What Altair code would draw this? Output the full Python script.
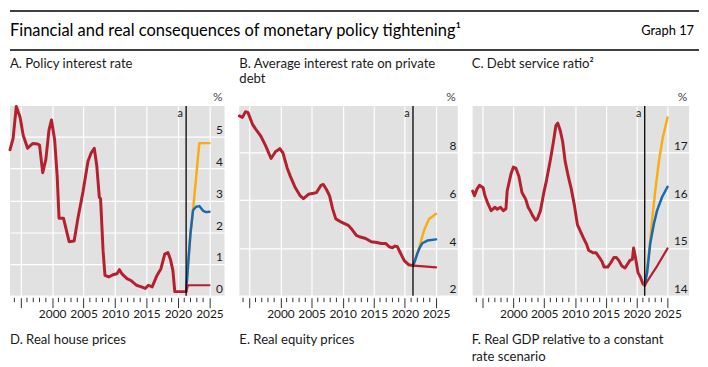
import altair as alt
import pandas as pd

# ---------------- texts ----------------
MAIN_TITLE = "Financial and real consequences of monetary policy tightening\u00b9"
GRAPH_NO = "Graph 17"
A_TITLE = ["A. Policy interest rate"]
B_TITLE = ["B. Average interest rate on private", "debt"]
C_TITLE = ["C. Debt service ratio\u00b2"]
D_TITLE = ["D. Real house prices"]
E_TITLE = ["E. Real equity prices"]
F_TITLE = ["F. Real GDP relative to a constant", "rate scenario"]
UNIT = "%"
VLINE_LABEL = "a"
VLINE_YEAR = [2021.3]

X_MAJOR = [1995, 2000, 2005, 2010, 2015, 2020, 2025]
X_MINOR = [1994, 1996, 1997, 1998, 1999, 2001, 2002, 2003, 2004, 2006, 2007, 2008,
           2009, 2011, 2012, 2013, 2014, 2016, 2017, 2018, 2019, 2021, 2022, 2023, 2024]

# ---------------- Panel A: policy interest rate ----------------
A_Y_TICKS = [0, 1, 2, 3, 4, 5]
A_HIST_YEARS = [1993.3, 1993.8, 1994.3, 1994.9, 1995.4, 1996.1, 1996.9, 1997.7, 1998.0, 1998.5,
                1999.0, 1999.5, 1999.9, 2000.4, 2000.8, 2001.1, 2001.8, 2002.3, 2002.7, 2003.5,
                2004.1, 2004.9, 2005.7, 2006.2, 2006.7, 2007.1, 2007.5, 2007.7, 2008.1, 2008.4,
                2009.0, 2009.8, 2010.3, 2010.7, 2011.1, 2011.9, 2012.6, 2013.4, 2014.2, 2014.8,
                2015.3, 2015.9, 2016.6, 2017.3, 2017.9, 2018.4, 2018.8, 2019.2, 2019.5, 2020.1,
                2021.0, 2021.3]
A_HIST_VALUES = [4.59, 4.95, 5.95, 5.62, 5.05, 4.64, 4.79, 4.77, 4.74, 3.87,
                 4.28, 5.21, 5.53, 4.90, 3.77, 2.44, 2.44, 2.03, 1.70, 1.72,
                 2.44, 3.26, 4.23, 4.49, 4.64, 4.08, 3.10, 3.05, 1.41, 0.64,
                 0.59, 0.67, 0.69, 0.82, 0.69, 0.54, 0.47, 0.33, 0.28, 0.23,
                 0.33, 0.28, 0.61, 0.85, 1.31, 1.36, 1.15, 0.79, 0.13, 0.13,
                 0.13, 0.13]
A_RED_YEARS = [2021.3, 2021.6, 2025.0]
A_RED_VALUES = [0.13, 0.33, 0.33]
A_BLUE_YEARS = [2021.3, 2021.6, 2022.0, 2022.4, 2022.9, 2023.4, 2024.0, 2024.5, 2025.0]
A_BLUE_VALUES = [0.13, 0.95, 1.98, 2.69, 2.80, 2.82, 2.67, 2.63, 2.64]
A_ORANGE_YEARS = [2021.3, 2021.6, 2022.0, 2022.4, 2023.4, 2025.0]
A_ORANGE_VALUES = [0.13, 0.95, 1.98, 2.69, 4.80, 4.80]

# ---------------- Panel B: average interest rate on private debt ----------------
B_Y_TICKS = [2, 4, 6, 8]
B_HIST_YEARS = [1993.4, 1993.9, 1994.4, 1994.8, 1995.5, 1996.0, 1996.8, 1997.6, 1998.5, 1999.2,
                1999.9, 2000.4, 2001.1, 2001.6, 2002.4, 2003.2, 2003.7, 2004.5, 2005.3, 2005.8,
                2006.5, 2006.9, 2007.4, 2007.9, 2008.4, 2008.9, 2009.8, 2010.9, 2011.4, 2012.2,
                2012.7, 2013.7, 2014.6, 2015.5, 2016.2, 2016.9, 2017.5, 2018.0, 2018.4, 2018.8,
                2019.3, 2019.9, 2020.6, 2021.3]
B_HIST_VALUES = [9.53, 9.47, 9.71, 9.67, 9.19, 8.99, 8.71, 8.30, 7.75, 8.03,
                 8.16, 7.99, 7.34, 7.00, 6.52, 6.18, 6.07, 6.25, 6.29, 6.32,
                 6.62, 6.66, 6.45, 6.18, 5.63, 5.22, 5.08, 4.95, 4.81, 4.53,
                 4.47, 4.40, 4.26, 4.23, 4.19, 4.19, 4.05, 4.01, 4.08, 4.05,
                 3.78, 3.47, 3.30, 3.26]
B_RED_YEARS = [2021.3, 2023.0, 2025.0]
B_RED_VALUES = [3.26, 3.23, 3.19]
B_BLUE_YEARS = [2021.3, 2021.6, 2022.0, 2022.4, 2022.8, 2023.6, 2025.0]
B_BLUE_VALUES = [3.26, 3.45, 3.77, 4.02, 4.20, 4.31, 4.36]
B_ORANGE_YEARS = [2021.3, 2021.6, 2022.0, 2022.25, 2023.05, 2023.85, 2025.0]
B_ORANGE_VALUES = [3.26, 3.45, 3.77, 3.97, 4.72, 5.20, 5.43]

# ---------------- Panel C: debt service ratio ----------------
C_Y_TICKS = [14, 15, 16, 17]
C_HIST_YEARS = [1993.4, 1993.7, 1994.1, 1994.5, 1995.1, 1995.4, 1995.9, 1996.4, 1997.0, 1997.4,
                1997.9, 1998.4, 1998.8, 1999.0, 1999.6, 2000.0, 2000.4, 2000.9, 2001.4, 2002.0,
                2002.4, 2002.8, 2003.1, 2003.6, 2003.9, 2004.4, 2004.9, 2005.4, 2006.0, 2006.5,
                2006.9, 2007.2, 2007.6, 2008.0, 2008.4, 2008.9, 2009.4, 2009.9, 2010.4, 2010.9,
                2011.4, 2011.9, 2012.2, 2012.9, 2013.4, 2013.9, 2014.4, 2014.7, 2015.3, 2015.8,
                2016.3, 2016.7, 2017.1, 2017.6, 2018.1, 2018.5, 2018.9, 2019.3, 2019.5, 2019.8,
                2020.2, 2020.6, 2021.0, 2021.3]
C_HIST_VALUES = [16.19, 16.09, 16.23, 16.31, 16.26, 16.09, 15.92, 15.78, 15.85, 15.81,
                 15.85, 15.78, 15.82, 16.19, 16.54, 16.69, 16.67, 16.50, 16.16, 16.02,
                 15.85, 15.76, 15.68, 15.58, 15.61, 15.78, 16.13, 16.43, 16.84, 17.22,
                 17.56, 17.61, 17.46, 17.22, 16.81, 16.50, 16.23, 15.89, 15.48, 15.34,
                 15.20, 15.07, 14.95, 14.90, 14.90, 14.81, 14.71, 14.60, 14.60, 14.69,
                 14.80, 14.80, 14.74, 14.62, 14.58, 14.66, 14.74, 14.76, 15.00, 14.80,
                 14.49, 14.39, 14.25, 14.22]
C_RED_YEARS = [2021.3, 2023.3, 2025.0]
C_RED_VALUES = [14.22, 14.62, 14.99]
C_BLUE_YEARS = [2021.3, 2021.7, 2022.2, 2022.8, 2023.3, 2024.1, 2025.0]
C_BLUE_VALUES = [14.22, 14.49, 15.10, 15.51, 15.78, 16.06, 16.28]
C_ORANGE_YEARS = [2021.3, 2022.0, 2022.5, 2023.0, 2023.6, 2024.2, 2025.0]
C_ORANGE_VALUES = [14.22, 14.90, 15.58, 16.19, 16.81, 17.29, 17.73]

# ---------------- style ----------------
RED = "#b5202e"
BLUE = "#1868b2"
ORANGE = "#f8ad14"
BG = "#e1e1e1"
INK = "#1a1a1a"
FONT = "Lato"
H = 192


def one(text):
    return pd.DataFrame({"t": [text]})


def text_layer(text, x, y, size=13, align="left", color=INK, baseline="middle"):
    return alt.Chart(one(text)).mark_text(
        align=align, baseline=baseline, fontSize=size, color=color, font=FONT
    ).encode(x=alt.value(x), y=alt.value(y), text="t:N")


def panel(W, xdom, ydom, yticks, hist, red, blue, orange, title_lines, foot_lines, title_x=0, extra=()):
    xscale = alt.Scale(domain=xdom, nice=False, zero=False)
    yscale = alt.Scale(domain=ydom, nice=False, zero=False)
    xaxis = alt.Axis(values=X_MAJOR, format="d",
                     labelExpr="datum.value < 2000 ? '' : datum.label",
                     title=None, grid=True, gridColor="white", gridWidth=1.2,
                     domain=False, ticks=True, tickSize=10, tickColor="#333", tickWidth=1,
                     offset=2, labelPadding=1, labelFontSize=12, labelColor=INK,
                     labelFont=FONT, labelFlush=False, labelOverlap=False)
    yaxis = alt.Axis(orient="right", values=yticks, title=None, grid=True,
                     gridColor="white", gridWidth=1.2, domain=False, ticks=False, tickSize=0,
                     offset=-2, labelPadding=0, labelAlign="right", labelBaseline="bottom",
                     labelFontSize=12, labelColor=INK, labelFont=FONT, labelFlush=False,
                     labelOverlap=False)
    X = alt.X("year:Q", scale=xscale, axis=xaxis)
    Y = alt.Y("value:Q", scale=yscale, axis=yaxis)

    def line(years, values, color, width):
        df = pd.DataFrame({"year": years, "value": values})
        return alt.Chart(df).mark_line(color=color, strokeWidth=width,
                                       strokeJoin="round", strokeCap="round").encode(x=X, y=Y)

    vdf = pd.DataFrame({"year": VLINE_YEAR, "t": [VLINE_LABEL]})
    layers = [
        line(hist[0], hist[1], RED, 3),
        line(orange[0], orange[1], ORANGE, 2.5),
        line(blue[0], blue[1], BLUE, 2.5),
        line(red[0], red[1], RED, 2.2),
        alt.Chart(vdf).mark_rule(color="black", strokeWidth=1.3).encode(x=X),
        alt.Chart(vdf).mark_text(fontSize=11, color=INK, font=FONT, dx=-6, baseline="middle")
        .encode(x=X, y=alt.value(8), text="t:N"),
        alt.Chart(pd.DataFrame({"year": X_MINOR})).mark_rule(color="#333", strokeWidth=1)
        .encode(x=X, y=alt.value(H + 2), y2=alt.value(H + 6.5)),
        text_layer(UNIT, W - 2, -9, size=12, align="right", color="#444"),
    ]
    for i, s in enumerate(title_lines):
        layers.append(text_layer(s, title_x, -42 + 15 * i, size=13.3))
    for i, s in enumerate(foot_lines):
        layers.append(text_layer(s, title_x, 237 + 17 * i, size=13.3))
    layers.extend(extra)
    return alt.layer(*layers).properties(
        width=W, height=H, view=alt.ViewBackground(fill=BG, stroke=None))


rule_df = pd.DataFrame({"k": [0]})
top_rule = alt.Chart(rule_df).mark_rule(color="black", strokeWidth=1.5).encode(
    x=alt.value(0), x2=alt.value(697), y=alt.value(-96))
bottom_rule = alt.Chart(rule_df).mark_rule(color="black", strokeWidth=1.5).encode(
    x=alt.value(0), x2=alt.value(697), y=alt.value(-56.5))

pA = panel(217, [1993.3, 2027.4], [0.0, 5.97], A_Y_TICKS,
           (A_HIST_YEARS, A_HIST_VALUES), (A_RED_YEARS, A_RED_VALUES),
           (A_BLUE_YEARS, A_BLUE_VALUES), (A_ORANGE_YEARS, A_ORANGE_VALUES),
           A_TITLE, D_TITLE,
           extra=[top_rule, bottom_rule,
                  text_layer(MAIN_TITLE, 0, -76, size=16.6, color="black")])
pB = panel(221, [1993.4, 2028.5], [2.0, 9.95], B_Y_TICKS,
           (B_HIST_YEARS, B_HIST_VALUES), (B_RED_YEARS, B_RED_VALUES),
           (B_BLUE_YEARS, B_BLUE_VALUES), (B_ORANGE_YEARS, B_ORANGE_VALUES),
           B_TITLE, E_TITLE)
pC = panel(219, [1993.4, 2028.5], [14.0, 17.97], C_Y_TICKS,
           (C_HIST_YEARS, C_HIST_VALUES), (C_RED_YEARS, C_RED_VALUES),
           (C_BLUE_YEARS, C_BLUE_VALUES), (C_ORANGE_YEARS, C_ORANGE_VALUES),
           C_TITLE, F_TITLE, title_x=-1,
           extra=[text_layer(GRAPH_NO, 224, -76, size=13, align="right", color="black")])

chart = alt.hconcat(pA, pB, pC, spacing=15, bounds="flush").properties(
    padding={"left": 0, "top": 0, "right": 0, "bottom": 0}
).configure(font=FONT)

chart.save("out.html", embed_options={"renderer": "svg", "actions": False})
